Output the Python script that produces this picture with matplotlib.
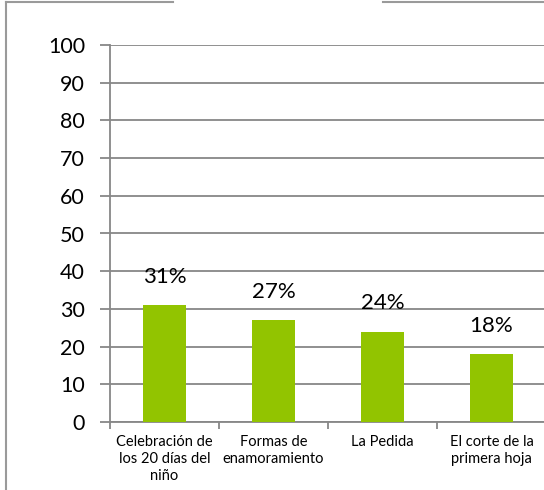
import matplotlib
matplotlib.use("Agg")
import matplotlib.pyplot as plt
from matplotlib.lines import Line2D

# data
categories = ["Celebración de\nlos 20 días del\nniño", "Formas de\nenamoramiento",
              "La Pedida", "El corte de la\nprimera hoja"]
values = [31, 27, 24, 18]
yticks = list(range(0, 101, 10))

GREEN = "#92c400"
GRID = "#878787"
W, H = 544, 490

plt.rcParams["font.family"] = ["Lato", "DejaVu Sans"]

fig = plt.figure(figsize=(W / 100, H / 100), dpi=100)
ax = fig.add_axes([110 / W, 1 - 422 / H, 436 / W, 377 / H])

x = list(range(len(values)))
ax.bar(x, values, width=0.4, color=GREEN, zorder=3)
for xi, v in zip(x, values):
    ax.annotate(f"{v}%", (xi, v), xytext=(0, 13), textcoords="offset points",
                ha="center", va="bottom", fontsize=16, color="black", zorder=4)

ax.set_xlim(-0.5, len(values) - 0.5)
ax.set_ylim(0, 100)
ax.set_yticks(yticks)
ax.set_yticklabels([str(t) for t in yticks], fontsize=15.5)
ax.grid(axis="y", color=GRID, lw=1.3, zorder=1)

# category boundary ticks on x axis, labels centred in categories
ax.set_xticks([i - 0.5 for i in range(len(values) + 1)])
ax.set_xticklabels([])
ax.set_xticks(x, minor=True)
ax.set_xticklabels(categories, minor=True, fontsize=10.5, linespacing=1.3)
ax.tick_params(axis="x", which="minor", length=0, pad=9)
ax.tick_params(axis="x", which="major", length=5, color=GRID, width=1.3)
ax.tick_params(axis="y", length=7, color=GRID, width=1.3, pad=11)

for s in ("top", "right"):
    ax.spines[s].set_visible(False)
for s in ("left", "bottom"):
    ax.spines[s].set_color(GRID)
    ax.spines[s].set_linewidth(1.3)

# outer chart frame (top edge has a gap where the title used to be)
def fx(px): return px / W
def fy(py): return 1 - py / H
fc = "#9a9a9a"
fig.add_artist(Line2D([fx(5.5), fx(5.5)], [fy(2), fy(H)], color=fc, lw=1.5))
fig.add_artist(Line2D([fx(5.5), fx(173)], [fy(2), fy(2)], color=fc, lw=1.5))
fig.add_artist(Line2D([fx(383), fx(W)], [fy(2), fy(2)], color=fc, lw=1.5))

fig.savefig("out.png", dpi=100)
